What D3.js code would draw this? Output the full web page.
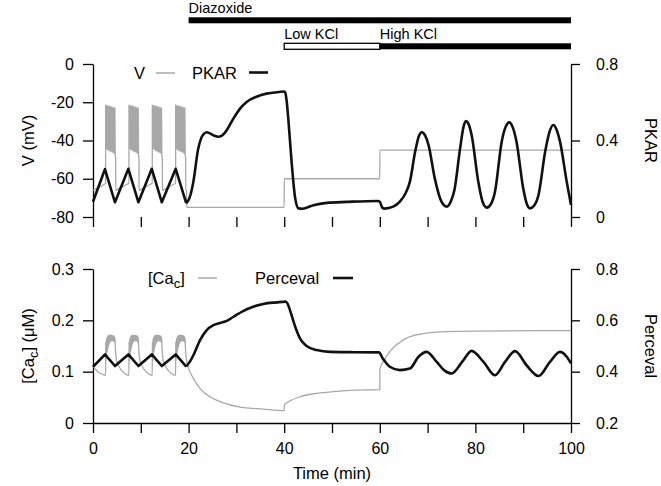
<!DOCTYPE html>
<html><head><meta charset="utf-8">
<script src="https://cdn.jsdelivr.net/npm/d3@7"></script>
<style>
body{margin:0;background:#fff}
text{font-family:"Liberation Sans",Arial,Helvetica,sans-serif}
</style>
</head><body>
<svg id="chart" width="661" height="486"></svg>
<script>
// ---------- data ----------
const timeTicks = [0,10,20,30,40,50,60,70,80,90,100];
const timeLabels = [0,20,40,60,80,100];
const vTicks = [0,-20,-40,-60,-80];
const pkarTicks = [0,0.4,0.8];
const caTicks = [0,0.1,0.2,0.3];
const percevalTicks = [0.2,0.4,0.6,0.8];

const treatmentLabels = ["Diazoxide","Low KCl","High KCl"];
const treatmentStart = [20,40,60];
const treatmentEnd = [100,60,100];
const treatmentRow = [0,1,1];
const treatmentFilled = [true,false,true];

// membrane potential V (mV) : [time (min), value]
const voltage = [
[0,-66],[0.8,-65],[1.6,-64],[2.3,-63],[2.64,-62.4],
[2.65,-21.4],[2.73,-44],[2.81,-21.5],[2.89,-44.5],[2.97,-21.6],[3.05,-45],[3.13,-21.7],[3.21,-45],[3.29,-21.8],[3.37,-45.5],[3.45,-21.9],[3.53,-45.5],[3.61,-22],[3.69,-46],[3.77,-22.2],[3.85,-46],[3.93,-22.3],[4.01,-46],[4.09,-22.5],[4.17,-46.5],[4.25,-22.6],[4.33,-46.5],[4.41,-22.8],[4.49,-47],[4.57,-22.9],[4.65,-48],[4.74,-49.5],[4.76,-66],
[5.5,-65],[6.3,-64],[7.0,-63],[7.52,-62.4],
[7.53,-21.4],[7.61,-44],[7.69,-21.5],[7.77,-44.5],[7.85,-21.6],[7.93,-45],[8.01,-21.7],[8.09,-45],[8.17,-21.8],[8.25,-45.5],[8.33,-21.9],[8.41,-45.5],[8.49,-22],[8.57,-46],[8.65,-22.2],[8.73,-46],[8.81,-22.3],[8.89,-46],[8.97,-22.5],[9.05,-46.5],[9.13,-22.6],[9.21,-46.5],[9.29,-22.8],[9.37,-47],[9.45,-22.9],[9.53,-48],[9.62,-49.5],[9.64,-66],
[10.4,-65],[11.2,-64],[11.9,-63],[12.40,-62.4],
[12.41,-21.4],[12.49,-44],[12.57,-21.5],[12.65,-44.5],[12.73,-21.6],[12.81,-45],[12.89,-21.7],[12.97,-45],[13.05,-21.8],[13.13,-45.5],[13.21,-21.9],[13.29,-45.5],[13.37,-22],[13.45,-46],[13.53,-22.2],[13.61,-46],[13.69,-22.3],[13.77,-46],[13.85,-22.5],[13.93,-46.5],[14.01,-22.6],[14.09,-46.5],[14.17,-22.8],[14.25,-47],[14.33,-22.9],[14.41,-48],[14.50,-49.5],[14.52,-66],
[15.3,-65],[16.1,-64],[16.8,-63],[17.29,-62.4],
[17.30,-21.4],[17.38,-44],[17.46,-21.5],[17.54,-44.5],[17.62,-21.6],[17.70,-45],[17.78,-21.7],[17.86,-45],[17.94,-21.8],[18.02,-45.5],[18.10,-21.9],[18.18,-45.5],[18.26,-22],[18.34,-46],[18.42,-22.2],[18.50,-46],[18.58,-22.3],[18.66,-46],[18.74,-22.5],[18.82,-46.5],[18.90,-22.6],[18.98,-46.5],[19.06,-22.8],[19.14,-47],[19.22,-22.9],[19.30,-48],[19.39,-49.5],[19.41,-66],
[19.58,-66],[19.60,-75],[40,-75],[40.01,-60],[60,-60],[60.01,-45],[100,-45]
];

// PKAR : [time, value]
const pkar = [
[0,0.08],[2.5,0.25],[4.6,0.077],[7.4,0.252],[9.5,0.077],[12.3,0.252],[14.4,0.077],[17.3,0.252],[19.5,0.072],
[20.2,0.1],[21,0.185],[22,0.355],[22.6,0.41],[23.1,0.432],[23.8,0.443],[24.5,0.437],[25.4,0.425],[26.3,0.42],[27.2,0.43],[28,0.455],[29.4,0.516],[30.8,0.568],[32.2,0.603],[34.2,0.629],[36.3,0.645],[38,0.651],[39.9,0.656],[40.2,0.652],[40.5,0.61],[40.9,0.5],[41.6,0.272],[42.3,0.098],[43.0,0.045],[43.8,0.043],[46.1,0.062],[48.9,0.074],[53.1,0.079],[59.6,0.084],[60,0.08],[60.5,0.05],[61,0.044],[62.8,0.054],[64.2,0.08],[65.3,0.12],[66.3,0.185],[67.4,0.342],[68.2,0.425],[68.8,0.443],[69.5,0.425],[70.2,0.376],[71.5,0.202],[72.9,0.08],[74.0,0.054],[75.0,0.09],[75.6,0.14],[76.8,0.359],[77.5,0.47],[78.0,0.502],[78.5,0.49],[79.2,0.43],[80.6,0.185],[81.5,0.08],[82.4,0.049],[83.3,0.07],[84.1,0.132],[85.5,0.394],[86.3,0.47],[87.1,0.495],[87.8,0.47],[88.6,0.394],[90.0,0.15],[90.8,0.065],[91.4,0.045],[92.3,0.06],[93.2,0.115],[94.6,0.342],[95.5,0.445],[96.3,0.481],[97.0,0.455],[97.7,0.394],[99.1,0.185],[100,0.063]
];

// cytosolic calcium [Ca_c] (uM)
const calcium = [
[0,0.11],[0.5,0.105],[1,0.1],[1.5,0.097],[2,0.095],[2.64,0.093],
[2.65,0.158],[2.73,0.12],[2.81,0.165],[2.89,0.13],[2.97,0.168],[3.05,0.14],[3.13,0.17],[3.21,0.148],[3.29,0.171],[3.37,0.153],[3.45,0.171],[3.53,0.157],[3.61,0.171],[3.69,0.159],[3.77,0.171],[3.85,0.16],[3.93,0.171],[4.01,0.16],[4.09,0.17],[4.17,0.16],[4.25,0.17],[4.33,0.159],[4.41,0.169],[4.49,0.157],[4.57,0.167],[4.65,0.153],[4.74,0.138],[4.85,0.127],[5.1,0.117],[5.5,0.109],[6.0,0.102],[6.6,0.097],[7.52,0.093],
[7.53,0.158],[7.61,0.12],[7.69,0.165],[7.77,0.13],[7.85,0.168],[7.93,0.14],[8.01,0.17],[8.09,0.148],[8.17,0.171],[8.25,0.153],[8.33,0.171],[8.41,0.157],[8.49,0.171],[8.57,0.159],[8.65,0.171],[8.73,0.16],[8.81,0.171],[8.89,0.16],[8.97,0.17],[9.05,0.16],[9.13,0.17],[9.21,0.159],[9.29,0.169],[9.37,0.157],[9.45,0.167],[9.53,0.153],[9.62,0.138],[9.73,0.127],[9.98,0.117],[10.38,0.109],[10.88,0.102],[11.48,0.097],[12.40,0.093],
[12.41,0.158],[12.49,0.12],[12.57,0.165],[12.65,0.13],[12.73,0.168],[12.81,0.14],[12.89,0.17],[12.97,0.148],[13.05,0.171],[13.13,0.153],[13.21,0.171],[13.29,0.157],[13.37,0.171],[13.45,0.159],[13.53,0.171],[13.61,0.16],[13.69,0.171],[13.77,0.16],[13.85,0.17],[13.93,0.16],[14.01,0.17],[14.09,0.159],[14.17,0.169],[14.25,0.157],[14.33,0.167],[14.41,0.153],[14.50,0.138],[14.61,0.127],[14.86,0.117],[15.26,0.109],[15.76,0.102],[16.36,0.097],[17.29,0.093],
[17.30,0.158],[17.38,0.12],[17.46,0.165],[17.54,0.13],[17.62,0.168],[17.70,0.14],[17.78,0.17],[17.86,0.148],[17.94,0.171],[18.02,0.153],[18.10,0.171],[18.18,0.157],[18.26,0.171],[18.34,0.159],[18.42,0.171],[18.50,0.16],[18.58,0.171],[18.66,0.16],[18.74,0.17],[18.82,0.16],[18.90,0.17],[18.98,0.159],[19.06,0.169],[19.14,0.157],[19.22,0.167],[19.30,0.153],[19.39,0.138],[19.5,0.127],[19.7,0.116],[20.2,0.102],[21,0.087],[22.4,0.067],[24.5,0.051],[27.3,0.039],[30.8,0.031],[35.6,0.027],[40,0.024],[40.02,0.035],[41.2,0.043],[43.3,0.051],[46.1,0.057],[50.3,0.061],[55,0.064],[60,0.065],[60.02,0.105],[61.1,0.125],[62.1,0.139],[63.2,0.15],[64.2,0.157],[65.5,0.165],[67,0.17],[70.5,0.176],[74,0.178],[80,0.179],[100,0.18]
];

// Perceval
const perceval = [
[0,0.419],[2.5,0.467],[4.6,0.422],[7.4,0.467],[9.5,0.422],[12.3,0.467],[14.4,0.422],[17.3,0.467],[19.5,0.42],
[20.3,0.44],[21,0.464],[22.4,0.523],[23.8,0.562],[25.2,0.581],[26.6,0.59],[28,0.598],[29.4,0.614],[31.4,0.636],[33.5,0.653],[35.6,0.664],[38.4,0.67],[40.3,0.673],[40.7,0.665],[41.2,0.64],[42.3,0.575],[43.3,0.53],[44.7,0.5],[46.8,0.484],[49.6,0.477],[54,0.476],[59.8,0.475],[60.7,0.449],[62.1,0.419],[64.2,0.406],[66.3,0.412],[68.1,0.458],[69.8,0.477],[71.9,0.438],[73.5,0.405],[75.0,0.393],[77.5,0.445],[79.2,0.481],[81.7,0.438],[84.1,0.386],[86.2,0.438],[88.3,0.48],[90.7,0.425],[93.2,0.383],[95.6,0.438],[97.7,0.477],[99.1,0.458],[100,0.432]
];

const sawtoothEnd = 19.5;

// ---------- drawing ----------
const svg = d3.select("#chart");
const GRAY = "#a8a8a8", BLACK = "#111";
const FONT = 16;

const x = d3.scaleLinear().domain([0,100]).range([93,571]);
const yV = d3.scaleLinear().domain([-80,0]).range([217,64]);
const yPK = d3.scaleLinear().domain([0,0.8]).range([217,64]);
const yCa = d3.scaleLinear().domain([0,0.3]).range([423,269]);
const yPe = d3.scaleLinear().domain([0.2,0.8]).range([423,269]);

function styleAxis(g){
  g.selectAll("path,line").attr("stroke","#000").attr("stroke-width",1.3);
  g.selectAll("text").attr("font-size",FONT).attr("fill","#000")
   .attr("font-family",'"Liberation Sans",Arial,Helvetica,sans-serif');
}
const fmt = d => String(d);

// top panel axes
svg.append("g").attr("transform","translate(93,0)")
  .call(d3.axisLeft(yV).tickValues(vTicks).tickFormat(fmt).tickSize(10).tickSizeOuter(0).tickPadding(9)).call(styleAxis);
svg.append("g").attr("transform","translate(571,0)")
  .call(d3.axisRight(yPK).tickValues(pkarTicks).tickFormat(fmt).tickSize(9).tickSizeOuter(0).tickPadding(16)).call(styleAxis);
svg.append("g").attr("transform","translate(0,217)")
  .call(d3.axisBottom(x).tickValues(timeTicks).tickFormat("").tickSize(10).tickSizeOuter(0))
  .call(g=>g.select(".domain").remove()).call(styleAxis);

// bottom panel axes
svg.append("g").attr("transform","translate(93,0)")
  .call(d3.axisLeft(yCa).tickValues(caTicks).tickFormat(fmt).tickSize(10).tickSizeOuter(0).tickPadding(9)).call(styleAxis);
svg.append("g").attr("transform","translate(571,0)")
  .call(d3.axisRight(yPe).tickValues(percevalTicks).tickFormat(fmt).tickSize(9).tickSizeOuter(0).tickPadding(16)).call(styleAxis);
svg.append("g").attr("transform","translate(0,423)")
  .call(d3.axisBottom(x).tickValues(timeTicks).tickFormat(d => timeLabels.includes(d) ? String(d) : "").tickSize(10).tickSizeOuter(0).tickPadding(10))
  .call(styleAxis);

// lines
function drawLine(data, ys, color, width, curve){
  svg.append("path").datum(data)
    .attr("fill","none").attr("stroke",color).attr("stroke-width",width)
    .attr("stroke-linejoin","round").attr("stroke-linecap","butt")
    .attr("d", d3.line().x(d=>x(d[0])).y(d=>ys(d[1])).curve(curve));
}
drawLine(voltage, yV, GRAY, 1.3, d3.curveMonotoneX);
drawLine(pkar.filter(d=>d[0]<=sawtoothEnd), yPK, BLACK, 2.6, d3.curveLinear);
drawLine(pkar.filter(d=>d[0]>=sawtoothEnd), yPK, BLACK, 2.6, d3.curveMonotoneX);
drawLine(calcium, yCa, GRAY, 1.3, d3.curveMonotoneX);
drawLine(perceval.filter(d=>d[0]<=sawtoothEnd), yPe, BLACK, 2.6, d3.curveLinear);
drawLine(perceval.filter(d=>d[0]>=sawtoothEnd), yPe, BLACK, 2.6, d3.curveMonotoneX);

// treatment bars
const rowTextY = [12.5, 39], rowBarY = [17.3, 43.3], barH = 6;
treatmentLabels.forEach((lab,i)=>{
  const r = treatmentRow[i];
  svg.append("text").attr("x", x(treatmentStart[i])).attr("y", rowTextY[r])
    .attr("font-size",14.5).text(lab);
  svg.append("rect").attr("x", x(treatmentStart[i])).attr("y", rowBarY[r])
    .attr("width", x(treatmentEnd[i]) - x(treatmentStart[i])).attr("height", barH)
    .attr("fill", treatmentFilled[i] ? "#000" : "#fff")
    .attr("stroke", "#000").attr("stroke-width", treatmentFilled[i] ? 0 : 1.3);
});

// legends
function legendText(xp, yp, t){ return svg.append("text").attr("x",xp).attr("y",yp).attr("font-size",16.5).text(t); }
legendText(134, 79, "V");
svg.append("line").attr("x1",156).attr("x2",175).attr("y1",73).attr("y2",73).attr("stroke",GRAY).attr("stroke-width",1.5);
legendText(192, 79, "PKAR");
svg.append("line").attr("x1",249).attr("x2",268).attr("y1",72.5).attr("y2",72.5).attr("stroke",BLACK).attr("stroke-width",2.6);

const caLeg = svg.append("text").attr("x",148).attr("y",284).attr("font-size",16.5);
caLeg.append("tspan").text("[Ca");
caLeg.append("tspan").attr("dy",4).attr("font-size",13).text("c");
caLeg.append("tspan").attr("dy",-4).text("]");
svg.append("line").attr("x1",198).attr("x2",217).attr("y1",278).attr("y2",278).attr("stroke",GRAY).attr("stroke-width",1.5);
legendText(255, 284, "Perceval");
svg.append("line").attr("x1",333).attr("x2",353).attr("y1",278).attr("y2",278).attr("stroke",BLACK).attr("stroke-width",2.6);

// axis titles
svg.append("text").attr("transform","translate(33.5,140.5) rotate(-90)").attr("text-anchor","middle").attr("font-size",16.5).text("V (mV)");
svg.append("text").attr("transform","translate(645,140.5) rotate(90)").attr("text-anchor","middle").attr("font-size",16.5).text("PKAR");
const caT = svg.append("text").attr("transform","translate(33.5,346) rotate(-90)").attr("text-anchor","middle").attr("font-size",16.5);
caT.append("tspan").text("[Ca");
caT.append("tspan").attr("dy",4).attr("font-size",13).text("c");
caT.append("tspan").attr("dy",-4).text("] (μM)");
svg.append("text").attr("transform","translate(645,346) rotate(90)").attr("text-anchor","middle").attr("font-size",16.5).text("Perceval");
svg.append("text").attr("x",x(50)).attr("y",479).attr("text-anchor","middle").attr("font-size",16.5).text("Time (min)");
</script>
</body></html>
